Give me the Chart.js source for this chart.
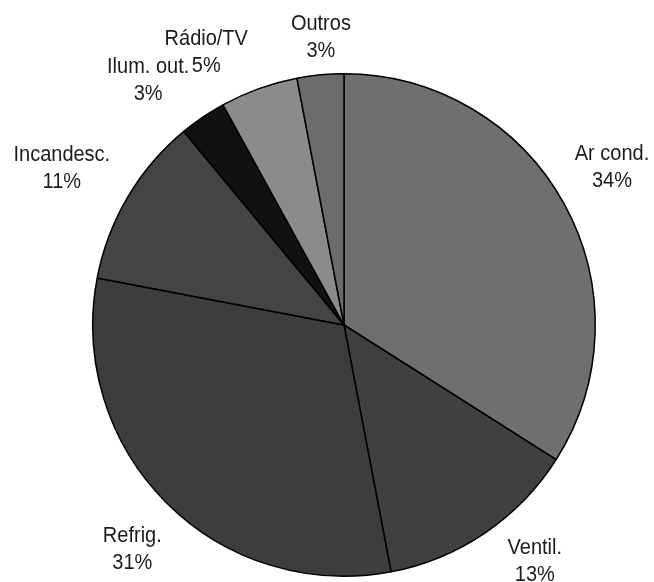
<!DOCTYPE html>
<html>
<head>
<meta charset="utf-8">
<script src="https://cdn.jsdelivr.net/npm/chart.js@4"></script>
<style>
  html, body { margin: 0; padding: 0; background: #fff; }
  #wrap { width: 654px; height: 582px; }
</style>
</head>
<body>
<div id="wrap"><canvas id="pie" width="654" height="582"></canvas></div>
<script>
// consumo por uso final
const categories = ['Ar cond.', 'Ventil.', 'Refrig.', 'Incandesc.', 'Ilum. out.', 'Rádio/TV', 'Outros'];
const shares = [34, 13, 31, 11, 3, 5, 3];
const sliceColors = ['#6f6f6f', '#404040', '#3d3d3d', '#444444', '#111111', '#8b8b8b', '#6c6c6c'];

// deslocamento de cada rótulo em relação à posição radial padrão
const labelNudge = [[-3, -8], [17, -19], [7, 6], [-16, 1], [-22, 11], [-33, 19], [6, 20]];

const outsideLabels = {
    id: 'outsideLabels',
    afterDatasetsDraw(chart) {
        const ctx = chart.ctx;
        const meta = chart.getDatasetMeta(0);
        const stretch = 1.08; // letras um pouco mais altas
        meta.data.forEach((arc, i) => {
            const { x, y, startAngle, endAngle, outerRadius } = arc.getProps(['x', 'y', 'startAngle', 'endAngle', 'outerRadius'], true);
            const mid = (startAngle + endAngle) / 2;
            const dist = outerRadius + 58;
            const cx = x + Math.cos(mid) * dist + labelNudge[i][0];
            const cy = y + Math.sin(mid) * dist + labelNudge[i][1];
            ctx.save();
            ctx.font = '20px "Liberation Sans", Arial, sans-serif';
            ctx.fillStyle = '#1c1c1c';
            ctx.textAlign = 'center';
            ctx.textBaseline = 'middle';
            ctx.translate(cx, cy);
            ctx.scale(1, stretch);
            ctx.fillText(categories[i], 0, -13.5 / stretch);
            ctx.fillText(shares[i] + '%', 0, 13.5 / stretch);
            ctx.restore();
        });
    }
};

new Chart(document.getElementById('pie'), {
    type: 'pie',
    data: {
        labels: categories,
        datasets: [{
            data: shares,
            backgroundColor: sliceColors,
            borderColor: '#000',
            borderWidth: 1.5
        }]
    },
    options: {
        responsive: false,
        animation: false,
        layout: { padding: { top: 73, bottom: 5, left: 92, right: 58 } },
        plugins: {
            legend: { display: false },
            tooltip: { enabled: false }
        }
    },
    plugins: [outsideLabels]
});
</script>
</body>
</html>
